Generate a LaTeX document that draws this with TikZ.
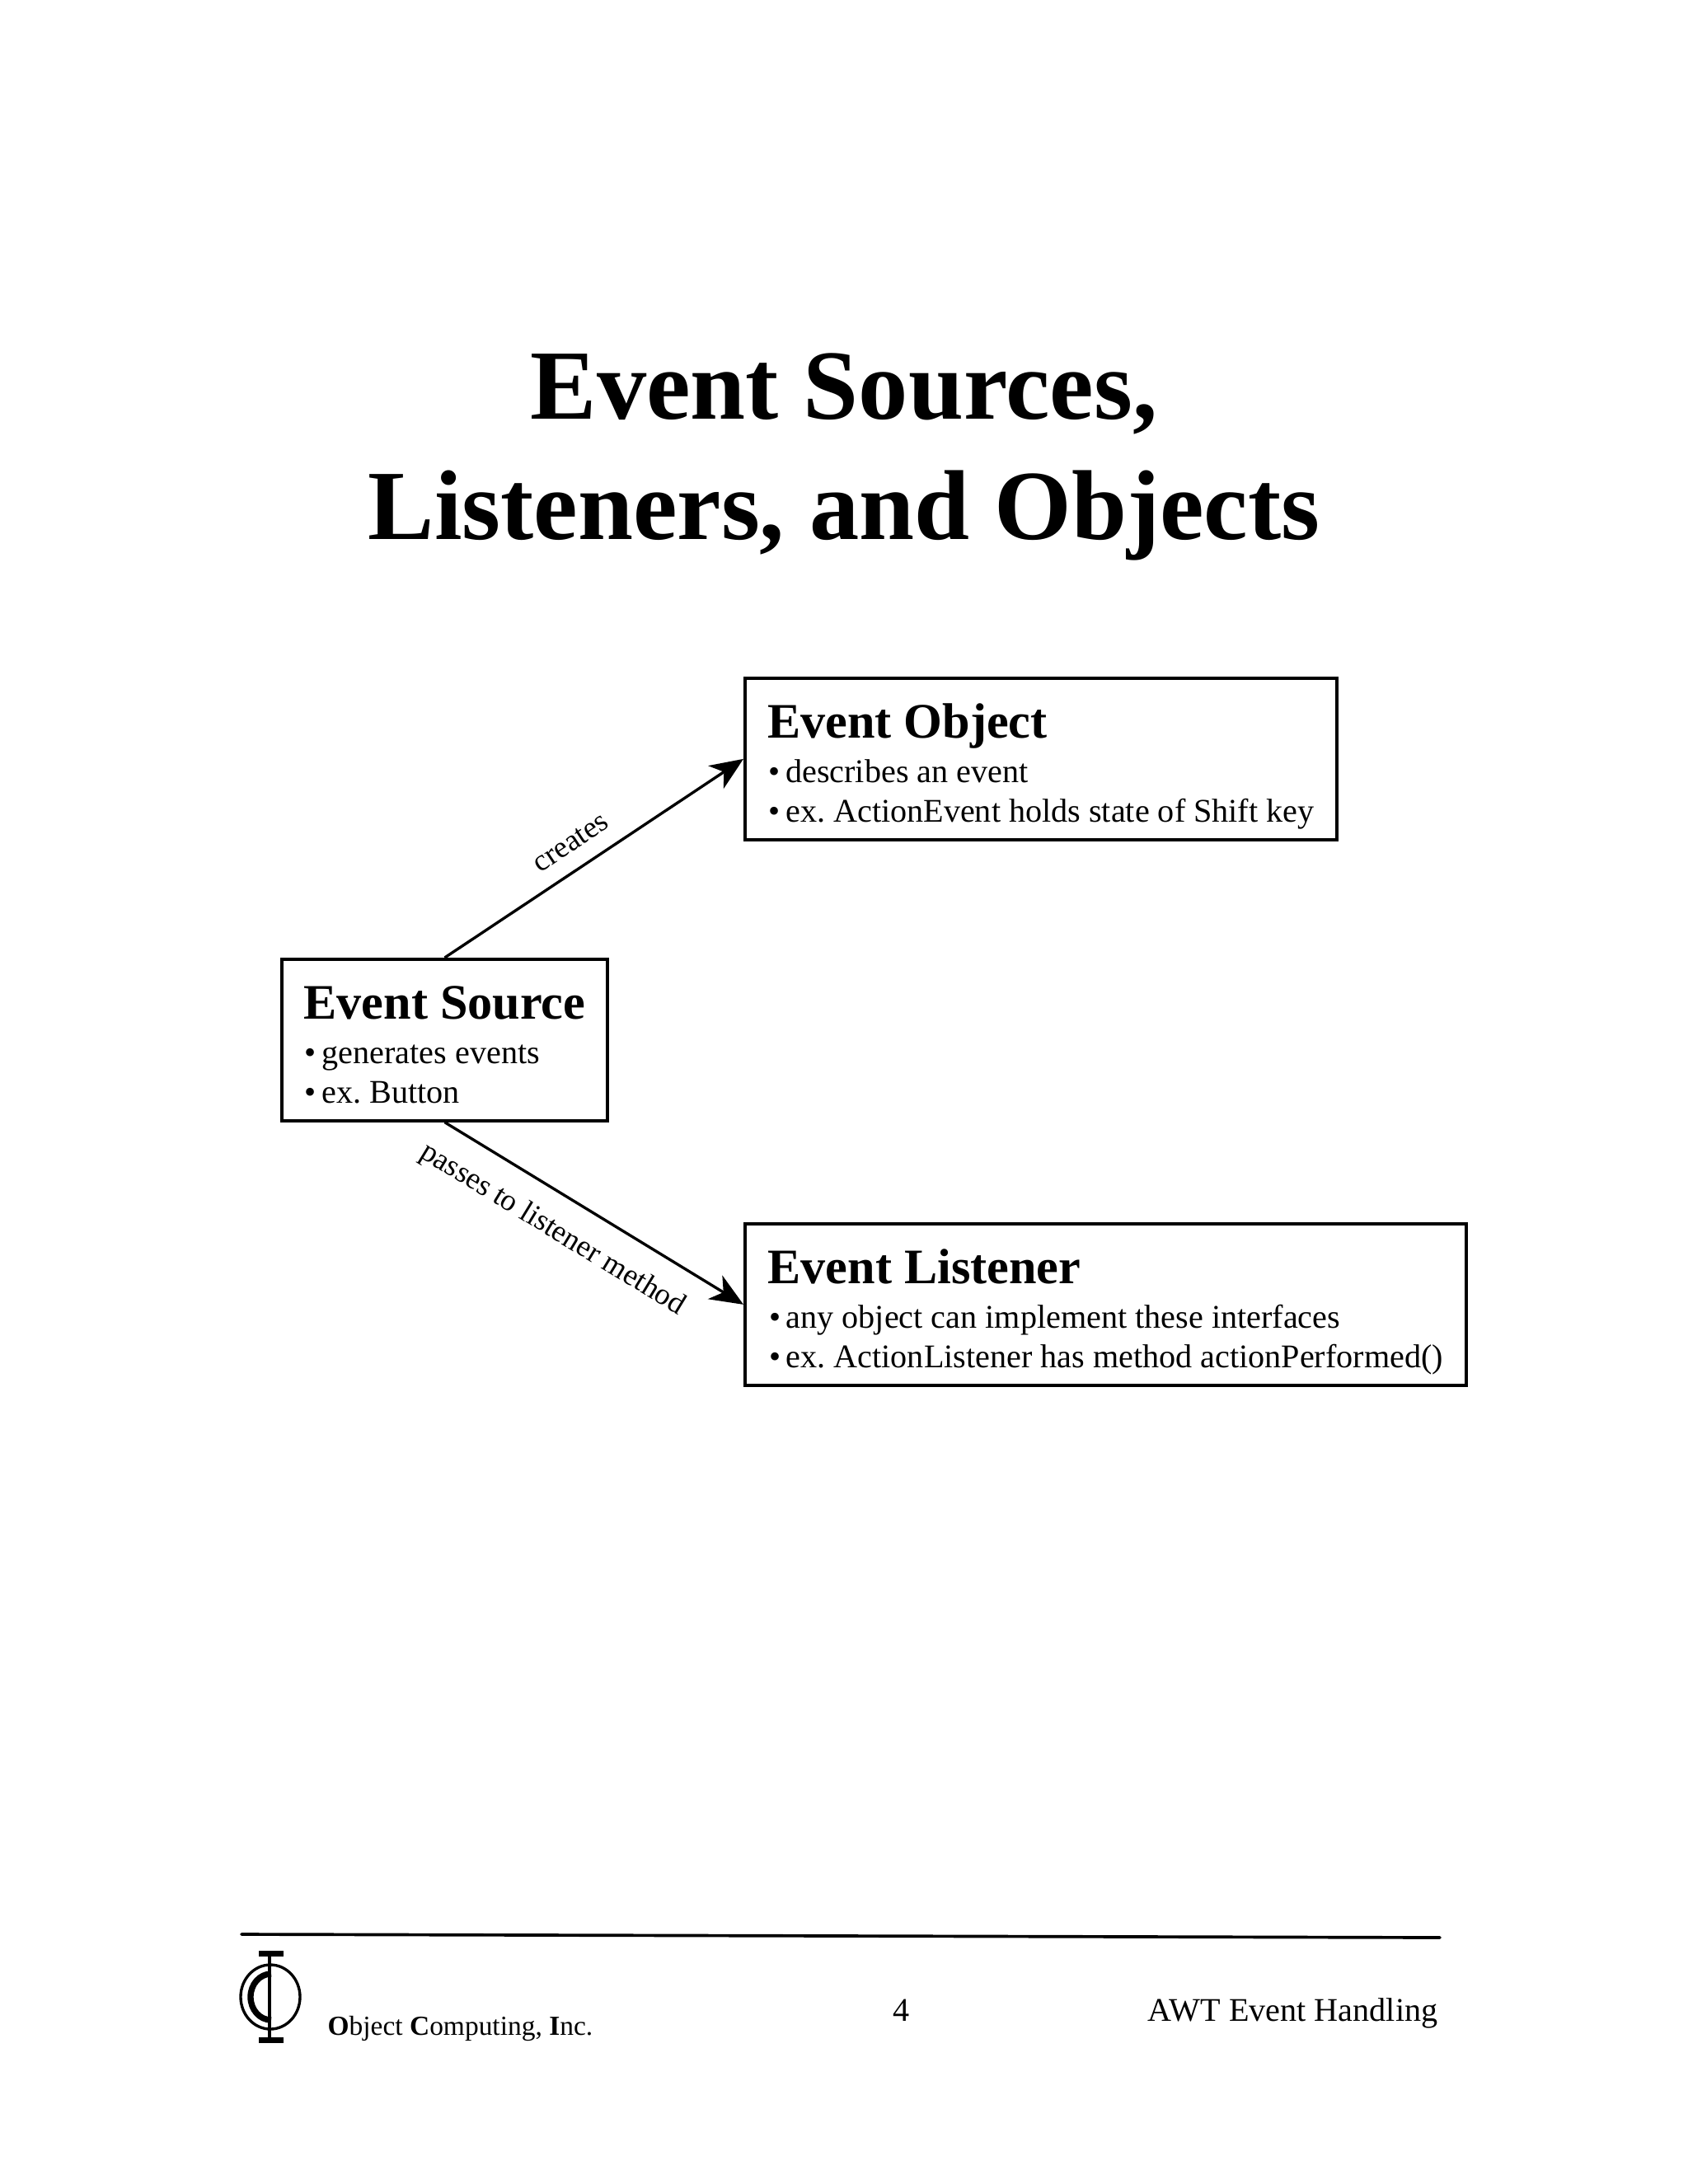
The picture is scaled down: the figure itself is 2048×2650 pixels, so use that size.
\documentclass[tikz,border=0pt]{standalone}
\usepackage{fontspec}
\setmainfont{Liberation Serif}
\usetikzlibrary{arrows.meta}

\newcommand{\headline}[1]{\rule{0pt}{21.8bp}{\fontsize{18bp}{18bp}\selectfont\bfseries #1}\\[1.5bp]}
\newcommand{\itemline}[1]{\hspace{0.4bp}\textbullet\hspace{2bp}#1}
\newcommand{\lastline}[1]{\rule[-6.4bp]{0pt}{6.4bp}\itemline{#1}}

\tikzset{
    eventbox/.style={draw=black,line width=1.1bp,anchor=north west,align=left,inner xsep=8bp,inner ysep=0pt,
        font=\fontsize{12bp}{14.4bp}\selectfont\frenchspacing},
    flow/.style={draw=black,line width=1bp,-{Stealth[length=12bp,width=10bp,inset=3.5bp]}},
    flowlabel/.style={font=\fontsize{11bp}{11bp}\selectfont,sloped,inner sep=0pt},
    plaintext/.style={anchor=base west,inner sep=0pt}
}

\begin{document}
\begin{tikzpicture}[x=0.29886bp,y=-0.29886bp]
    \useasboundingbox (0,0) rectangle (2048,2650);
    % title
    \node[anchor=base,inner sep=0pt,font=\fontsize{36bp}{36bp}\selectfont\bfseries] (titleA) at (1024,508) {Event Sources,};
    \node[anchor=base,inner sep=0pt,font=\fontsize{36bp}{36bp}\selectfont\bfseries] (titleB) at (1024,654) {Listeners, and Objects};
    % boxes
    \node[eventbox,minimum width=395*0.29886bp,minimum height=196*0.29886bp] (source) at (340,1162)
        {\headline{Event Source}\itemline{generates events}\\\lastline{ex. Button}};
    \node[eventbox,minimum width=718*0.29886bp,minimum height=196*0.29886bp] (object) at (902,821)
        {\headline{Event Object}\itemline{describes an event}\\\lastline{ex. ActionEvent holds state of Shift key}};
    \node[eventbox,minimum width=875*0.29886bp,minimum height=196*0.29886bp] (listener) at (902,1483)
        {\headline{Event Listener}\itemline{any object can implement these interfaces}\\\lastline{ex. ActionListener has method actionPerformed()}};
    % arrows
    \draw[flow] (source.north) -- node[flowlabel,pos=0.47,above=5.7bp] (creates) {creates} (object.west);
    \draw[flow] (source.south) -- node[flowlabel,pos=0.423,below=7.5bp] (passes) {passes to listener method} (listener.west);
    % footer
    \coordinate (ruleL) at (293,2347);
    \coordinate (ruleR) at (1747,2351);
    \draw[line width=1.1bp,line cap=round] (ruleL) -- (ruleR);
    % logo
    \draw[line width=1bp] (328,2423) ellipse [x radius=36,y radius=39];
    \draw[line width=1bp] (327,2370) -- (327,2475);
    \fill (314,2367) rectangle (344,2374);
    \fill (314,2472) rectangle (344,2479);
    \draw[line width=2.2bp] (329,2395) arc [start angle=270,end angle=90,x radius=25,y radius=28];
    \node[plaintext,font=\fontsize{10bp}{10bp}\selectfont] (company) at (397,2469) {\textbf{O}bject \textbf{C}omputing, \textbf{I}nc.};
    \node[anchor=base,inner sep=0pt,font=\fontsize{12bp}{12bp}\selectfont] (page) at (1094,2452) {4};
    \node[anchor=base east,inner sep=0pt,font=\fontsize{12bp}{12bp}\selectfont] (topic) at (1745,2452) {AWT Event Handling};
\end{tikzpicture}
\end{document}
